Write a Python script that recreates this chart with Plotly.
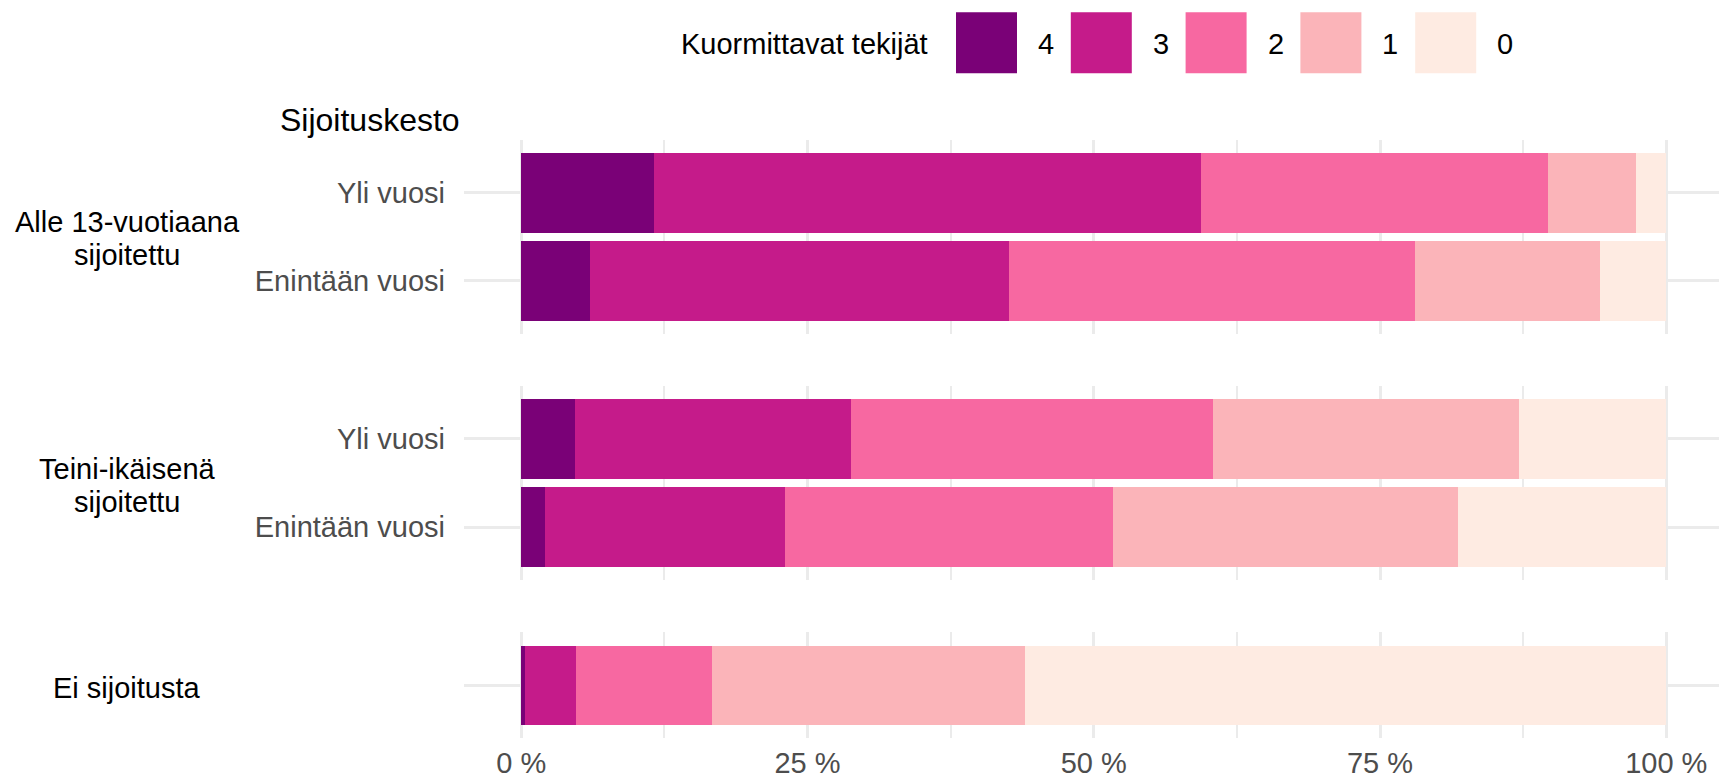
import plotly.graph_objects as go

# ---- data ----
levels = ["4", "3", "2", "1", "0"]
colors = ["#7A0177", "#C51B8A", "#F768A1", "#FBB4B9", "#FEEBE2"]
durations = ["Enintään vuosi", "Yli vuosi"]
group_lines = [["Alle 13-vuotiaana", "sijoitettu"], ["Teini-ikäisenä", "sijoitettu"], ["Ei sijoitusta"]]

alle_yli = [11.6, 47.8, 30.3, 7.7, 2.6]
alle_enint = [6.0, 36.6, 35.5, 16.1, 5.8]
teini_yli = [4.7, 24.1, 31.6, 26.7, 12.9]
teini_enint = [2.1, 20.9, 28.7, 30.1, 18.2]
ei_sij = [0.35, 4.45, 11.9, 27.3, 56.0]

x_tickvals = [0, 25, 50, 75, 100]
x_ticktext = ["0 %", "25 %", "50 %", "75 %", "100 %"]
x_minor = [12.5, 37.5, 62.5, 87.5]

legend_title = "Kuormittavat tekijät"
y_title = "Sijoituskesto"

# ---- layout constants ----
W, H = 1719, 780
ML, MR, MT, MB = 464, 0, 140, 42
PW, PH = W - ML - MR, H - MT - MB
FONT = "Liberation Sans, Arial, sans-serif"
GRID = "#EBEBEB"


def px_x(px):
    return (px - ML) / PW


def px_y(py):
    return (H - MB - py) / PH


panels = [
    ("y", "x", durations, [[alle_enint[i], alle_yli[i]] for i in range(5)], [-0.6, 1.6], True),
    ("y2", "x2", durations, [[teini_enint[i], teini_yli[i]] for i in range(5)], [-0.6, 1.6], True),
    ("y3", "x3", ["Ei sijoitusta"], [[ei_sij[i]] for i in range(5)], [-0.6, 0.6], False),
]

fig = go.Figure()
for pi, (ya, xa, cats, vals, yr, showlab) in enumerate(panels):
    for li, lev in enumerate(levels):
        fig.add_trace(go.Bar(
            x=vals[li], y=cats, orientation="h", width=0.9,
            marker=dict(color=colors[li], line=dict(width=0)),
            name=lev, showlegend=False, xaxis=xa, yaxis=ya,
        ))

# domains (px)
unit = 88.1
p1 = (140, 140 + 2.2 * unit)
p3 = (H - MB - 1.2 * unit, H - MB)
p2 = (p1[1] + 52.3, p1[1] + 52.3 + 2.2 * unit)
doms = [[px_y(p[1]), px_y(p[0])] for p in (p1, p2, p3)]

xr = [-5, -5 + PW / 1145 * 100]

layout = dict(
    width=W, height=H,
    margin=dict(l=ML, r=MR, t=MT, b=MB, autoexpand=False),
    paper_bgcolor="white", plot_bgcolor="white",
    barmode="stack", bargap=0.1,
    font=dict(family=FONT, size=29, color="#4D4D4D"),
    showlegend=False,
)
for i, (ya, xa, cats, vals, yr, showlab) in enumerate(panels):
    xkey = "xaxis" if xa == "x" else "xaxis" + xa[1:]
    ykey = "yaxis" if ya == "y" else "yaxis" + ya[1:]
    layout[xkey] = dict(
        domain=[0, 1], anchor=ya, range=xr, tickvals=x_tickvals, ticktext=x_ticktext,
        showticklabels=(i == 2), showgrid=True, gridcolor=GRID, gridwidth=2.5,
        zeroline=False, showline=False, ticks="", ticklabelstandoff=5, automargin=False,
        tickfont=dict(size=29, color="#4D4D4D", family=FONT),
        minor=dict(tickvals=x_minor, showgrid=True, gridcolor=GRID, gridwidth=1.5),
        fixedrange=True,
    )
    if i != 0:
        layout[xkey]["matches"] = "x"
    layout[ykey] = dict(
        domain=doms[i], anchor=xa, type="category", categoryorder="array",
        categoryarray=cats, range=yr, showticklabels=showlab, automargin=False,
        showgrid=True, gridcolor=GRID, gridwidth=2.5, zeroline=False, showline=False,
        ticks="", ticklabelstandoff=18,
        tickfont=dict(size=29, color="#4D4D4D", family=FONT),
        fixedrange=True,
    )
fig.update_layout(**layout)

ann = []
shapes = []
# facet strip labels
centers = [((p1[0] + p1[1]) / 2), ((p2[0] + p2[1]) / 2), ((p3[0] + p3[1]) / 2)]
for ci, lines in enumerate(group_lines):
    c = centers[ci]
    if len(lines) == 2:
        ys = [c - 14.5, c + 18.5]
    else:
        ys = [c + 2.5]
    for ln, yy in zip(lines, ys):
        ann.append(dict(text=ln, xref="paper", yref="paper", x=px_x(127), y=px_y(yy),
                        xanchor="center", yanchor="middle", showarrow=False,
                        font=dict(size=29, color="black", family=FONT)))
# y title
ann.append(dict(text=y_title, xref="paper", yref="paper", x=px_x(370), y=px_y(120),
                xanchor="center", yanchor="middle", showarrow=False,
                font=dict(size=32, color="black", family=FONT)))
# legend
ann.append(dict(text=legend_title, xref="paper", yref="paper", x=px_x(930), y=px_y(44),
                xanchor="right", yanchor="middle", showarrow=False,
                font=dict(size=29, color="black", family=FONT)))
sw_left0, sw_step, sw_size = 956, 114.8, 61
for li, lev in enumerate(levels):
    x0 = sw_left0 + li * sw_step
    shapes.append(dict(type="rect", xref="paper", yref="paper",
                       x0=px_x(x0), x1=px_x(x0 + sw_size), y0=px_y(12.3 + sw_size), y1=px_y(12.3),
                       fillcolor=colors[li], line=dict(width=0)))
    ann.append(dict(text=lev, xref="paper", yref="paper", x=px_x(x0 + sw_size + 19), y=px_y(44),
                    xanchor="left", yanchor="middle", showarrow=False,
                    font=dict(size=29, color="black", family=FONT)))

fig.update_layout(annotations=ann, shapes=shapes)
fig.write_html("out.html", config=dict(displayModeBar=False),
               post_script="document.body.style.margin='0px';document.body.style.overflow='hidden';")
